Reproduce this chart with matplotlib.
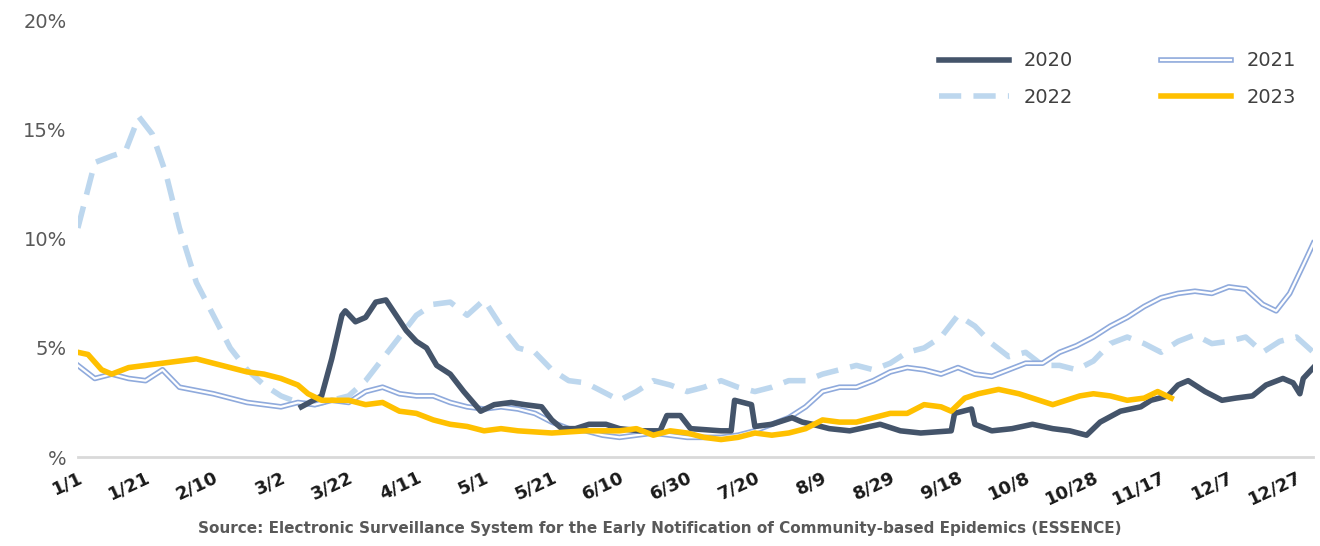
import matplotlib
matplotlib.use("Agg")
import matplotlib.pyplot as plt
import matplotlib.patheffects as pe
from matplotlib.lines import Line2D

d2020 = [66,72,75,78,79,82,85,88,91,94,97,100,103,106,110,114,119,123,128,132,137,140,143,147,151,156,160,166,172,174,178,181,190,193,194,199,200,205,211,214,217,222,228,234,237,243,249,258,259,264,265,270,276,282,288,293,298,302,308,314,317,322,325,328,330,333,338,342,347,351,356,359,361,362,365]
v2020 = [2.3,2.8,4.5,6.5,6.7,6.2,6.4,7.1,7.2,6.5,5.8,5.3,5.0,4.2,3.8,3.0,2.1,2.4,2.5,2.4,2.3,1.7,1.3,1.3,1.5,1.5,1.3,1.2,1.2,1.9,1.9,1.3,1.2,1.2,2.6,2.4,1.4,1.5,1.8,1.6,1.5,1.3,1.2,1.4,1.5,1.2,1.1,1.2,2.0,2.2,1.5,1.2,1.3,1.5,1.3,1.2,1.0,1.6,2.1,2.3,2.6,2.8,3.3,3.5,3.3,3.0,2.6,2.7,2.8,3.3,3.6,3.4,2.9,3.6,4.1]

d2021 = [0,5,10,15,20,25,30,40,50,60,65,70,75,80,85,90,95,100,105,110,115,120,125,130,135,140,145,150,155,160,165,170,175,180,185,190,195,200,205,210,215,220,225,230,235,240,245,250,255,260,265,270,275,280,285,290,295,300,305,310,315,320,325,330,335,340,345,350,354,358,362,365]
v2021 = [4.2,3.6,3.8,3.6,3.5,4.0,3.2,2.9,2.5,2.3,2.5,2.4,2.6,2.5,3.0,3.2,2.9,2.8,2.8,2.5,2.3,2.2,2.3,2.2,2.0,1.6,1.3,1.2,1.0,0.9,1.0,1.1,1.0,0.9,0.9,0.9,1.0,1.2,1.5,1.8,2.3,3.0,3.2,3.2,3.5,3.9,4.1,4.0,3.8,4.1,3.8,3.7,4.0,4.3,4.3,4.8,5.1,5.5,6.0,6.4,6.9,7.3,7.5,7.6,7.5,7.8,7.7,7.0,6.7,7.5,8.8,9.8]

d2022 = [0,5,10,14,18,22,26,30,35,40,45,50,55,60,65,70,75,80,85,90,95,100,105,110,115,120,125,130,135,140,145,150,155,160,165,170,175,180,185,190,195,200,205,210,215,220,225,230,235,240,245,250,255,260,265,270,275,280,285,290,295,300,305,310,315,320,325,330,335,340,345,350,355,360,365]
v2022 = [10.5,13.5,13.8,14.0,15.6,14.8,13.0,10.5,8.0,6.5,5.0,4.0,3.3,2.8,2.5,2.4,2.6,2.8,3.5,4.5,5.5,6.5,7.0,7.1,6.5,7.2,6.0,5.0,4.8,4.0,3.5,3.4,3.0,2.6,3.0,3.5,3.3,3.0,3.2,3.5,3.2,3.0,3.2,3.5,3.5,3.8,4.0,4.2,4.0,4.3,4.8,5.0,5.5,6.5,6.0,5.2,4.6,4.8,4.2,4.2,4.0,4.4,5.2,5.5,5.2,4.8,5.3,5.6,5.2,5.3,5.5,4.8,5.3,5.5,4.8]

d2023 = [0,3,7,10,15,20,25,30,35,40,45,50,55,60,65,68,72,80,85,90,95,100,105,110,115,120,125,130,140,150,160,165,170,175,180,185,190,195,200,205,210,215,220,225,230,235,240,245,250,255,258,262,266,272,278,284,288,292,296,300,305,310,315,319,323]
v2023 = [4.8,4.7,4.0,3.8,4.1,4.2,4.3,4.4,4.5,4.3,4.1,3.9,3.8,3.6,3.3,2.9,2.6,2.6,2.4,2.5,2.1,2.0,1.7,1.5,1.4,1.2,1.3,1.2,1.1,1.2,1.2,1.3,1.0,1.2,1.1,0.9,0.8,0.9,1.1,1.0,1.1,1.3,1.7,1.6,1.6,1.8,2.0,2.0,2.4,2.3,2.1,2.7,2.9,3.1,2.9,2.6,2.4,2.6,2.8,2.9,2.8,2.6,2.7,3.0,2.7]

tick_days = list(range(0, 361, 20))
tick_labels = ["1/1","1/21","2/10","3/2","3/22","4/11","5/1","5/21","6/10","6/30","7/20","8/9","8/29","9/18","10/8","10/28","11/17","12/7","12/27"]
y_ticks = [0, 5, 10, 15, 20]
y_labels = ["%", "5%", "10%", "15%", "20%"]

fig = plt.figure(figsize=(13.2, 5.46), dpi=100)
ax = fig.add_axes([0.059, 0.163, 0.936, 0.799])

dbl = [pe.Stroke(linewidth=4, foreground="#8faadc"), pe.Stroke(linewidth=1.6, foreground="white")]

ax.plot(d2022, v2022, color="#bdd7ee", lw=4, dashes=(4, 2.2), zorder=2)
ax.plot(d2021, v2021, color="white", lw=1.6, path_effects=dbl, zorder=3)
ax.plot(d2020, v2020, color="#44546a", lw=4, zorder=4)
ax.plot(d2023, v2023, color="#ffc000", lw=4, zorder=5)

h2020 = Line2D([], [], color="#44546a", lw=4)
h2021 = Line2D([], [], color="white", lw=1.6, path_effects=dbl)
h2022 = Line2D([], [], color="#bdd7ee", lw=4, dashes=(4, 2.2))
h2023 = Line2D([], [], color="#ffc000", lw=4)
ax.legend([h2020, h2022, h2021, h2023], ["2020", "2022", "2021", "2023"],
          ncol=2, frameon=False, loc="upper right", bbox_to_anchor=(1.0, 0.97),
          fontsize=14, handlelength=3.6, columnspacing=4.5, labelspacing=0.9,
          labelcolor="#404040")

ax.set_xlim(0, 365)
ax.set_ylim(0, 20)
ax.set_yticks(y_ticks)
ax.set_yticklabels(y_labels, fontsize=14, color="#595959")
ax.set_xticks(tick_days)
ax.set_xticklabels(tick_labels, rotation=25, ha="right", rotation_mode="anchor",
                   fontsize=13, fontweight="bold", color="#1a1a1a")
ax.tick_params(length=0, pad=8)
for s in ["top", "right", "left"]:
    ax.spines[s].set_visible(False)
ax.spines["bottom"].set_color("#d9d9d9")
ax.spines["bottom"].set_linewidth(2)

fig.text(0.5, 0.024, "Source: Electronic Surveillance System for the Early Notification of Community-based Epidemics (ESSENCE)",
         ha="center", fontsize=11, fontweight="bold", color="#595959")

fig.savefig("out.png", dpi=100)
